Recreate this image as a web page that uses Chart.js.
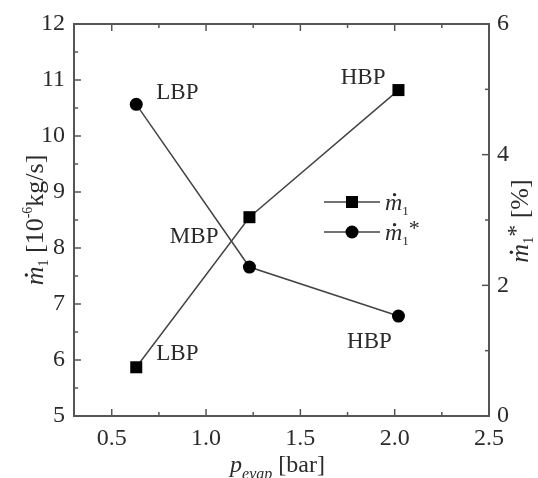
<!DOCTYPE html>
<html lang="en">
<head>
<meta charset="UTF-8">
<title>m1 vs p_evap</title>
<script src="https://cdn.jsdelivr.net/npm/chart.js@4.4.1/dist/chart.umd.min.js"></script>
<style>
  body { margin: 0; background: #fff; }
</style>
</head>
<body>
<canvas id="chart" width="538" height="478"></canvas>
<script>
// three operating points: low / medium / high back pressure
const pointNames = ['LBP', 'MBP', 'HBP'];
const pEvap = [0.63, 1.23, 2.02];        // bar
const m1 = [5.87, 8.55, 10.82];          // 10^-6 kg/s (left axis)
const m1Star = [4.77, 2.28, 1.53];       // % (right axis)

// axis ticks
const xTicks = [0.5, 1.0, 1.5, 2.0, 2.5];
const xMinor = [0.75, 1.25, 1.75, 2.25];
const yTicks = [5, 6, 7, 8, 9, 10, 11, 12];
const yMinor = [5.5, 6.5, 7.5, 8.5, 9.5, 10.5, 11.5];
const y2Ticks = [0, 2, 4, 6];
const y2Minor = [1, 3, 5];

const FAM = "'Liberation Serif', 'DejaVu Serif', serif";
const INK = '#2b2b2b';
const AXIS = '#555';

Chart.defaults.font.family = FAM;
Chart.defaults.color = INK;

// draws a run of text pieces (italic, sub/superscripts, dotted m)
function drawRich(ctx, parts, x, y, align) {
  let total = 0;
  parts.forEach(p => {
    ctx.font = (p.italic ? 'italic ' : '') + p.size + 'px ' + FAM;
    p.w = ctx.measureText(p.t).width;
    total += p.w;
  });
  let cx = align === 'center' ? x - total / 2 : x;
  ctx.textAlign = 'left';
  ctx.textBaseline = 'alphabetic';
  parts.forEach(p => {
    ctx.font = (p.italic ? 'italic ' : '') + p.size + 'px ' + FAM;
    ctx.fillText(p.t, cx, y + (p.dy || 0));
    if (p.dot) {
      ctx.beginPath();
      ctx.arc(cx + p.w * 0.55, y - p.size * 0.64, 1.7, 0, Math.PI * 2);
      ctx.fill();
    }
    cx += p.w;
  });
}

const m1Parts = (size) => [
  { t: 'm', size: size, italic: true, dot: true },
  { t: '1', size: Math.round(size * 0.55), dy: 5 }
];

const decor = {
  id: 'decor',
  afterDraw(chart) {
    const { ctx, chartArea: a, scales } = chart;
    ctx.save();

    // frame
    ctx.strokeStyle = AXIS;
    ctx.lineWidth = 2;
    ctx.strokeRect(a.left, a.top, a.right - a.left, a.bottom - a.top);

    // inward tick marks
    ctx.lineWidth = 1.5;
    const tick = (x1, y1, x2, y2) => {
      ctx.beginPath(); ctx.moveTo(x1, y1); ctx.lineTo(x2, y2); ctx.stroke();
    };
    [[xTicks, 7], [xMinor, 4]].forEach(([vals, len]) => vals.forEach(v => {
      const px = scales.x.getPixelForValue(v);
      tick(px, a.bottom, px, a.bottom - len);
      tick(px, a.top, px, a.top + len);
    }));
    [[yTicks, 7], [yMinor, 4]].forEach(([vals, len]) => vals.forEach(v => {
      const py = scales.y.getPixelForValue(v);
      tick(a.left, py, a.left + len, py);
    }));
    [[y2Ticks, 7], [y2Minor, 4]].forEach(([vals, len]) => vals.forEach(v => {
      const py = scales.y2.getPixelForValue(v);
      tick(a.right, py, a.right - len, py);
    }));

    // point annotations
    ctx.fillStyle = INK;
    ctx.font = '23px ' + FAM;
    ctx.textBaseline = 'middle';
    const notes = [
      { ds: 1, i: 0, dx: 20, dy: -11, align: 'left' },
      { ds: 0, i: 0, dx: 20, dy: -13, align: 'left' },
      { ds: 0, i: 1, dx: -31, dy: 20, align: 'right' },
      { ds: 0, i: 2, dx: -13, dy: -12, align: 'right' },
      { ds: 1, i: 2, dx: -29, dy: 26, align: 'center' }
    ];
    notes.forEach(n => {
      const el = chart.getDatasetMeta(n.ds).data[n.i];
      ctx.textAlign = n.align;
      ctx.fillText(pointNames[n.i], el.x + n.dx, el.y + n.dy);
    });

    // legend inside the plot
    const lx = a.left + 250, ly = a.top + 178;
    ctx.strokeStyle = '#444';
    ctx.lineWidth = 1.5;
    tick(lx, ly, lx + 56, ly);
    tick(lx, ly + 30, lx + 56, ly + 30);
    ctx.fillStyle = '#000';
    ctx.fillRect(lx + 28 - 6, ly - 6, 12, 12);
    ctx.beginPath(); ctx.arc(lx + 28, ly + 30, 6.5, 0, Math.PI * 2); ctx.fill();
    ctx.fillStyle = INK;
    drawRich(ctx, m1Parts(24), lx + 61, ly + 8, 'left');
    drawRich(ctx, m1Parts(24).concat([{ t: '*', size: 22, dy: -5 }]), lx + 61, ly + 38, 'left');

    // axis titles
    const midY = (a.top + a.bottom) / 2;
    ctx.save();
    ctx.translate(43, midY);
    ctx.rotate(-Math.PI / 2);
    drawRich(ctx, m1Parts(26).concat([
      { t: ' [10', size: 26 },
      { t: '-6', size: 14, dy: -11 },
      { t: 'kg/s]', size: 26 }
    ]), 0, 0, 'center');
    ctx.restore();

    ctx.save();
    ctx.translate(528, midY + 1);
    ctx.rotate(-Math.PI / 2);
    drawRich(ctx, m1Parts(26).concat([
      { t: '*', size: 24, dy: -5 },
      { t: ' [%]', size: 26 }
    ]), 0, 0, 'center');
    ctx.restore();

    drawRich(ctx, [
      { t: 'p', size: 24, italic: true },
      { t: 'evap', size: 16, italic: true, dy: 7 },
      { t: ' [bar]', size: 24 }
    ], (a.left + a.right) / 2 - 4, 472, 'center');

    ctx.restore();
  }
};

const setTicks = vals => s => { s.ticks = vals.map(v => ({ value: v })); };
const bare = { display: false, drawTicks: false };

new Chart(document.getElementById('chart'), {
  type: 'scatter',
  data: {
    datasets: [{
      label: 'm1',
      data: pEvap.map((x, i) => ({ x: x, y: m1[i] })),
      yAxisID: 'y',
      showLine: true,
      borderColor: '#444',
      borderWidth: 1.5,
      pointStyle: 'rect',
      pointRadius: 8.5,
      pointBackgroundColor: '#000',
      pointBorderWidth: 0
    }, {
      label: 'm1*',
      data: pEvap.map((x, i) => ({ x: x, y: m1Star[i] })),
      yAxisID: 'y2',
      showLine: true,
      borderColor: '#444',
      borderWidth: 1.5,
      pointStyle: 'circle',
      pointRadius: 6.5,
      pointBackgroundColor: '#000',
      pointBorderWidth: 0
    }]
  },
  options: {
    responsive: false,
    animation: false,
    layout: { padding: { top: 24, left: 0, right: 0, bottom: 0 } },
    plugins: { legend: { display: false }, tooltip: { enabled: false } },
    scales: {
      x: {
        type: 'linear', position: 'bottom', min: 0.3, max: 2.5,
        afterBuildTicks: setTicks(xTicks),
        afterFit: s => { s.height = 62; },
        grid: bare, border: { display: false },
        ticks: { padding: 8, font: { size: 24 }, callback: v => v.toFixed(1) }
      },
      y: {
        position: 'left', min: 5, max: 12,
        afterBuildTicks: setTicks(yTicks),
        afterFit: s => { s.width = 74; },
        grid: bare, border: { display: false },
        ticks: { padding: 9, font: { size: 24 } }
      },
      y2: {
        position: 'right', min: 0, max: 6,
        afterBuildTicks: setTicks(y2Ticks),
        afterFit: s => { s.width = 49; },
        grid: bare, border: { display: false },
        ticks: { padding: 8, font: { size: 24 } }
      }
    }
  },
  plugins: [decor]
});
</script>
</body>
</html>
